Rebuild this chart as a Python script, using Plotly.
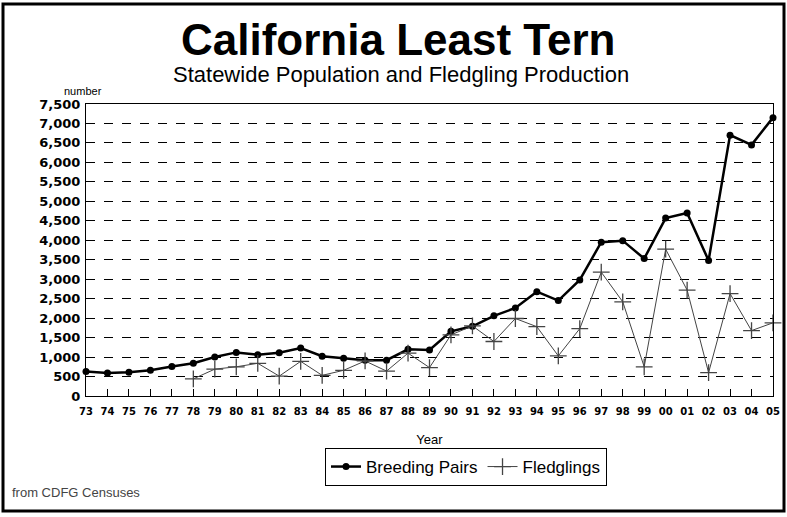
import plotly.graph_objects as go

# ---- data ----
years = ["73", "74", "75", "76", "77", "78", "79", "80", "81", "82", "83", "84", "85",
         "86", "87", "88", "89", "90", "91", "92", "93", "94", "95", "96", "97", "98",
         "99", "00", "01", "02", "03", "04", "05"]
breeding_pairs = [630, 590, 610, 660, 760, 840, 1000, 1120, 1060, 1110, 1230, 1020, 970,
                  920, 920, 1200, 1180, 1660, 1790, 2060, 2260, 2680, 2450, 2980, 3950, 3990,
                  3530, 4570, 4700, 3480, 6700, 6450, 7150]
fledgling_years = ["78", "79", "80", "81", "82", "83", "84", "85", "86", "87", "88", "89",
                   "90", "91", "92", "93", "94", "95", "96", "97", "98", "99", "00", "01",
                   "02", "03", "04", "05"]
fledglings = [440, 690, 750, 840, 510, 890, 530, 660, 900, 640, 1100, 730,
              1570, 1800, 1400, 1990, 1780, 1030, 1730, 3180, 2420, 750, 3770, 2720,
              600, 2630, 1680, 1880]
y_ticks = list(range(0, 7501, 500))

W, H = 787, 517
L, R, T, B = 86, 773, 104, 396  # plot area in pixels


def px(x):
    return (x - L) / (R - L)


def py(y):
    return (B - y) / (B - T)


fig = go.Figure()
fig.add_trace(go.Scatter(
    x=years, y=breeding_pairs, name="Breeding Pairs", mode="lines+markers",
    line=dict(color="black", width=2.5), marker=dict(symbol="circle", size=7, color="black"),
    cliponaxis=False))
fig.add_trace(go.Scatter(
    x=fledgling_years, y=fledglings, name="Fledglings", mode="lines+markers",
    line=dict(color="#444444", width=1),
    marker=dict(symbol="cross-thin-open", size=12, line=dict(color="#222222", width=1.3)),
    cliponaxis=False))

fig.update_layout(
    width=W, height=H,
    margin=dict(l=L, r=W - R, t=T, b=H - B, autoexpand=False),
    paper_bgcolor="white", plot_bgcolor="white",
    font=dict(family="Liberation Sans, Arial, sans-serif", color="black"),
    showlegend=True,
    legend=dict(orientation="h", x=px(466), y=py(467), xanchor="center", yanchor="middle",
                bordercolor="black", borderwidth=1, bgcolor="white",
                font=dict(size=17, family="Liberation Sans, Arial, sans-serif"),
                itemwidth=30, tracegroupgap=0),
    xaxis=dict(type="category", categoryorder="array", categoryarray=years,
               range=[0, len(years) - 1], showgrid=False, showline=True, linecolor="black",
               linewidth=1, mirror=True, ticks="inside", ticklen=7, tickcolor="black",
               tickfont=dict(family="DejaVu Sans", size=10, color="black", weight="bold"),
               ticklabelstandoff=6, automargin=False,
               title=dict(text="Year", font=dict(size=13), standoff=18)),
    yaxis=dict(range=[0, 7500], tickvals=y_ticks, tickformat=",", showgrid=True,
               gridcolor="black", griddash="dash", gridwidth=1, zeroline=False,
               showline=True, linecolor="black", linewidth=1, mirror=True, ticks="",
               tickfont=dict(family="DejaVu Sans", size=13, color="black", weight="bold"),
               ticklabelstandoff=2, automargin=False),
)

fig.add_annotation(text="<b>California Least Tern</b>", xref="paper", yref="paper",
                   x=px(398), y=py(39), xanchor="center", yanchor="middle", showarrow=False,
                   font=dict(size=44, family="Liberation Sans, Arial, sans-serif"))
fig.add_annotation(text="Statewide Population and Fledgling Production", xref="paper",
                   yref="paper", x=px(401), y=py(75), xanchor="center", yanchor="middle",
                   showarrow=False, font=dict(size=22, family="Liberation Sans, Arial, sans-serif"))
fig.add_annotation(text="number", xref="paper", yref="paper", x=px(62), y=py(91),
                   xanchor="left", yanchor="middle", showarrow=False,
                   font=dict(size=11, family="Liberation Sans, Arial, sans-serif"))
fig.add_annotation(text="from CDFG Censuses", xref="paper", yref="paper", x=px(10), y=py(492),
                   xanchor="left", yanchor="middle", showarrow=False,
                   font=dict(size=13, color="#444444", family="Liberation Sans, Arial, sans-serif"))

fig.add_shape(type="rect", xref="paper", yref="paper", x0=px(3), x1=px(784), y0=py(511),
              y1=py(4), line=dict(color="black", width=3), layer="below")

fig.write_html("out.html", config={"displayModeBar": False},
               post_script="document.body.style.margin='0px';")
